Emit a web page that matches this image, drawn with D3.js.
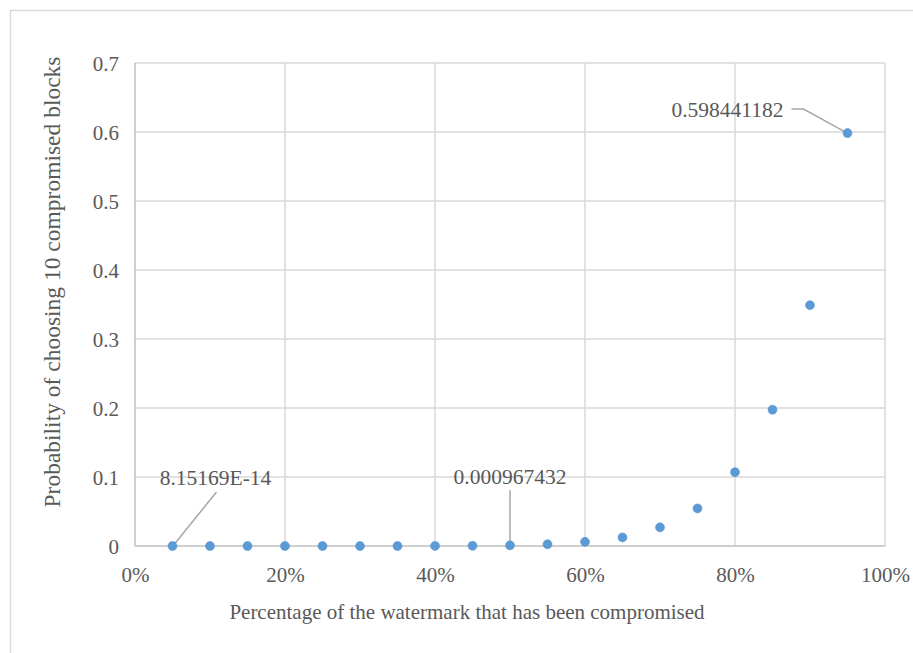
<!DOCTYPE html>
<html><head><meta charset="utf-8">
<script src="https://cdn.jsdelivr.net/npm/d3@7"></script>
<style>body{margin:0;background:#fff;} svg{display:block;} svg text{font-family:"Liberation Serif","DejaVu Serif",serif;}</style>
</head><body>
<script>
const percentages = [0.05,0.10,0.15,0.20,0.25,0.30,0.35,0.40,0.45,0.50,0.55,0.60,0.65,0.70,0.75,0.80,0.85,0.90,0.95];
const probabilities = [8.15169e-14,8e-11,4.6e-9,8.5e-8,8e-7,5e-6,2.3e-5,9e-5,3e-4,0.000967432,0.0025,0.006,0.0125,0.027,0.0545,0.107,0.1975,0.349,0.598441182];
const xTicks = [0,0.2,0.4,0.6,0.8,1.0];
const yTicks = [0,0.1,0.2,0.3,0.4,0.5,0.6,0.7];
const labelled = [0, 9, 18];
const labelTexts = ["8.15169E-14","0.000967432","0.598441182"];
const xTitle = "Percentage of the watermark that has been compromised";
const yTitle = "Probability of choosing 10 compromised blocks";

const W = 913, H = 653;
const svg = d3.select("body").append("svg").attr("width", W).attr("height", H);
svg.append("rect").attr("x",10.5).attr("y",10.5).attr("width",1000).attr("height",1000)
  .attr("fill","#fff").attr("stroke","#d9d9d9").attr("stroke-width",1.5);

const m = {left:135, right:885, top:63, bottom:546};
const x = d3.scaleLinear().domain([0,1]).range([m.left, m.right]);
const y = d3.scaleLinear().domain([0,0.7]).range([m.bottom, m.top]);
const font = '"Liberation Serif","DejaVu Serif",serif';
const txt = "#595959";
const fs = "21px";

const g = svg.append("g");
g.selectAll(".vg").data(xTicks.slice(1)).join("line")
  .attr("x1",d=>x(d)).attr("x2",d=>x(d)).attr("y1",m.top).attr("y2",m.bottom)
  .attr("stroke","#d9d9d9").attr("stroke-width",1.5);
g.selectAll(".hg").data(yTicks.slice(1)).join("line")
  .attr("x1",m.left).attr("x2",m.right).attr("y1",d=>y(d)).attr("y2",d=>y(d))
  .attr("stroke","#d9d9d9").attr("stroke-width",1.5);
g.append("line").attr("x1",m.left).attr("x2",m.left).attr("y1",m.top).attr("y2",m.bottom)
  .attr("stroke","#bfbfbf").attr("stroke-width",1.5);
g.append("line").attr("x1",m.left).attr("x2",m.right).attr("y1",m.bottom).attr("y2",m.bottom)
  .attr("stroke","#bfbfbf").attr("stroke-width",1.5);

const xAxis = svg.append("g").attr("transform",`translate(0,${m.bottom})`)
  .call(d3.axisBottom(x).tickValues(xTicks).tickFormat(d3.format(".0%")).tickSize(0).tickPadding(21));
const yAxis = svg.append("g").attr("transform",`translate(${m.left},0)`)
  .call(d3.axisLeft(y).tickValues(yTicks).tickFormat(d=>d===0?"0":d3.format(".1f")(d)).tickSize(0).tickPadding(16));
[xAxis,yAxis].forEach(a=>{
  a.attr("font-family",null).attr("font-size",null);
  a.select(".domain").remove();
  a.selectAll("text").attr("fill",txt).style("font-family",font).style("font-size",fs);
});
yAxis.selectAll("text").attr("dy","0.35em");

svg.append("text").attr("x",467).attr("y",619).attr("text-anchor","middle")
  .attr("fill",txt).style("font-family",font).style("font-size",fs).text(xTitle);
svg.append("text").attr("transform","translate(60,282) rotate(-90)").attr("text-anchor","middle")
  .attr("fill",txt).style("font-family",font).style("font-size","23.5px").text(yTitle);

const lc = "#a6a6a6";
const i0 = labelled[0], i1 = labelled[1], i2 = labelled[2];
svg.append("line").attr("x1",x(percentages[i0])+2).attr("y1",y(probabilities[i0])-2)
  .attr("x2",x(percentages[i0])+44).attr("y2",y(probabilities[i0])-54).attr("stroke",lc).attr("stroke-width",1.5);
svg.append("line").attr("x1",x(percentages[i1])).attr("y1",y(probabilities[i1])-3)
  .attr("x2",x(percentages[i1])).attr("y2",y(probabilities[i1])-55).attr("stroke",lc).attr("stroke-width",1.5);
svg.append("path").attr("d",`M${x(percentages[i2])-2},${y(probabilities[i2])-1} L${x(percentages[i2])-44},${y(probabilities[i2])-24} L${x(percentages[i2])-56},${y(probabilities[i2])-24}`)
  .attr("fill","none").attr("stroke",lc).attr("stroke-width",1.5);

const lab = [
  {i:i0, dx:43, dy:-61, anchor:"middle"},
  {i:i1, dx:0, dy:-61, anchor:"middle"},
  {i:i2, dx:-64, dy:-16, anchor:"end"}
];
svg.selectAll(".dl").data(lab).join("text")
  .attr("x",d=>x(percentages[d.i])+d.dx).attr("y",d=>y(probabilities[d.i])+d.dy)
  .attr("text-anchor",d=>d.anchor).attr("fill",txt)
  .style("font-family",font).style("font-size","21.5px")
  .text((d,k)=>labelTexts[k]);

svg.selectAll(".pt").data(percentages).join("circle")
  .attr("cx",d=>x(d)).attr("cy",(d,i)=>y(probabilities[i])).attr("r",4.5)
  .attr("fill","#5b9bd5").attr("stroke","#4a8bc9").attr("stroke-width",0.5);
</script>
</body></html>
